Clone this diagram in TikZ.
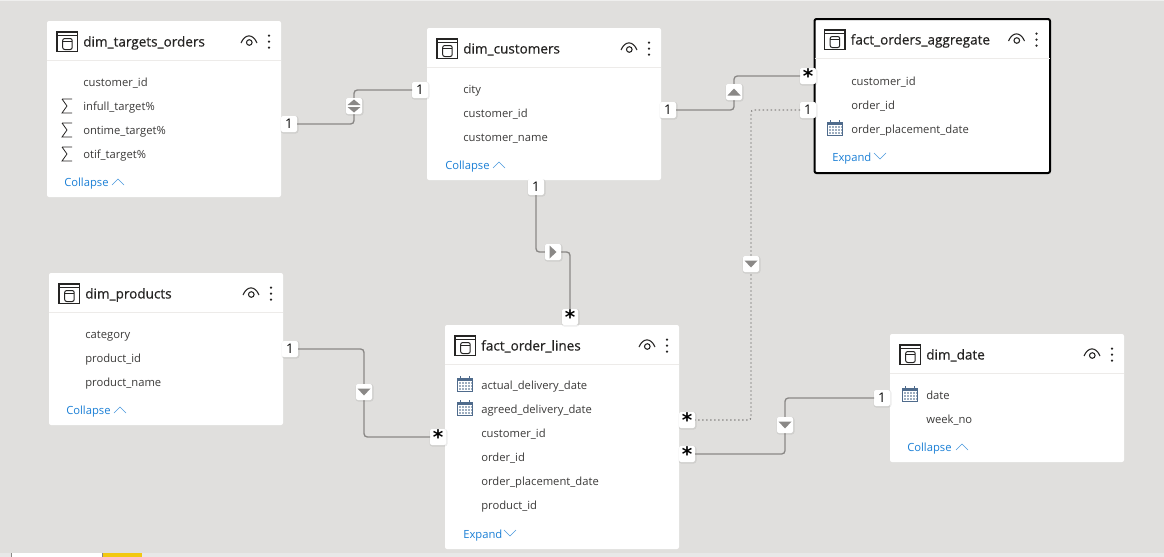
\documentclass[tikz,border=0pt]{standalone}
\usepackage{fontspec}
\setmainfont{Open Sans}
\newfontfamily\astfont{DejaVu Sans}
\newfontfamily\ttlfont[FakeBold=0.5]{Open Sans}
\usetikzlibrary{calc}
\definecolor{bgc}{HTML}{E0DFDD}
\definecolor{txtc}{HTML}{3B3A39}
\definecolor{ttlc}{HTML}{252423}
\definecolor{linkc}{HTML}{1A7FD6}
\definecolor{linec}{HTML}{8A8886}
\definecolor{rulec}{HTML}{EDEBE9}
\definecolor{calc1}{HTML}{4F6B8C}
\definecolor{tabyellow}{HTML}{F2C811}
\definecolor{stripc}{HTML}{E8E8E8}
\tikzset{
  x=0.75pt,y=-0.75pt,
  card/.style={fill=white,draw=none,rounded corners=1.5pt,anchor=north west,inner sep=0pt,outer sep=0pt},
  selcard/.style={card,draw=black,line width=1.5pt},
  fieldtxt/.style={anchor=base west,inner sep=0pt,font=\fontsize{8.42pt}{10pt}\selectfont,text=txtc},
  titletxt/.style={anchor=base west,inner sep=0pt,font=\ttlfont\fontsize{10.15pt}{11pt}\selectfont,text=ttlc},
  linktxt/.style={anchor=base west,inner sep=0pt,font=\fontsize{8.42pt}{10pt}\selectfont,text=linkc},
  badge/.style={fill=white,rounded corners=1.5pt,minimum size=12pt,inner sep=0pt,outer sep=0pt,font=\fontsize{10pt}{10pt}\selectfont,text=black},
  astbadge/.style={badge,font=\astfont\bfseries\fontsize{15pt}{15pt}\selectfont},
  filterbadge/.style={badge},
  rel/.style={draw=linec,line width=1pt,rounded corners=2.5pt},
  reldot/.style={draw=linec,line width=1pt,dotted,rounded corners=2pt},
  tri/.style={fill=linec,draw=none},
  ic/.style={draw=ttlc,line width=.9pt},
}
% card: name, x, y, w, h, title, selected style
\newcommand{\cardbox}[7]{%
  \node[#7,minimum width=#4*0.75pt,minimum height=#5*0.75pt] (#1) at (#2,#3) {};
  \draw[rulec,line width=.75pt] ($(#2,#3)+(0,39.5)$) -- ++(#4,0);
  \draw[ic] ($(#2,#3)+(10,11)$) rectangle ++(20.5,19.5);
  \draw[ic] ($(#2,#3)+(10,14.5)$) -- ++(20.5,0);
  \draw[ic,line width=.75pt,rounded corners=1.5pt] ($(#2,#3)+(15.7,17.5)$) rectangle ++(9.5,11);
  \draw[ic,line width=.65pt] ($(#2,#3)+(15.7,20)$) -- ++(9.5,0);
  \node[titletxt] (#1-title) at ($(#2,#3)+(36,25.5)$) {#6};
  \draw[ic,line width=.8pt] ($(#2,#3)+(194,22)$) .. controls ($(#2,#3)+(198,12.5)$) and ($(#2,#3)+(206,12.5)$) .. ($(#2,#3)+(210,22)$);
  \draw[ic,line width=.8pt] ($(#2,#3)+(202.3,21.5)$) circle[radius=2.8];
  \foreach \dy in {14.7,20.7,26.7}
    \fill[ttlc] ($(#2,#3)+(222,\dy)$) circle[radius=1.25];
}
% field: name, x of text, base y, text
\newcommand{\fieldrow}[4]{\node[fieldtxt] (#1) at (#2,#3+4) {#4};}
\newcommand{\sigmaicon}[2]{%
  \draw[ttlc,line width=.6pt,line join=miter] (#1-5,#2-7) -- (#1+5,#2-7) (#1-5,#2-7) -- (#1,#2) -- (#1-5,#2+7) -- (#1+5,#2+7);}
\newcommand{\calicon}[2]{%
  \draw[calc1,line width=.7pt] (#1-7.5,#2-7) rectangle (#1+7.5,#2+6);
  \draw[calc1,line width=1.1pt] (#1-7.5,#2-5) -- (#1+7.5,#2-5);
  \draw[calc1,line width=.7pt] (#1-4.5,#2-9) -- (#1-4.5,#2-6) (#1+4.5,#2-9) -- (#1+4.5,#2-6);
  \foreach \gy in {-2,1,4}
    \draw[calc1!55,line width=.9pt,dash pattern=on 1.4pt off .9pt] (#1-6,#2+\gy) -- (#1+6.5,#2+\gy);}
\newcommand{\linkup}[2]{\draw[linkc!80,line width=.5pt] (#1-6,#2+4) -- (#1,#2-2) -- (#1+6,#2+4);}
\newcommand{\linkdown}[2]{\draw[linkc!80,line width=.5pt] (#1-6,#2-2) -- (#1,#2+4) -- (#1+6,#2-2);}
% badges with faint shadow
\newcommand{\bdg}[5]{%
  \fill[black,opacity=.07,rounded corners=2pt] (#3-8.5,#4-8) rectangle (#3+9.5,#4+9.5);
  \node[#1] (#2) at (#3,#4) {#5};}
\newcommand{\upTri}[2]{\fill[tri] (#1-6.5,#2+3.5) -- (#1,#2-3.5) -- (#1+6.5,#2+3.5) -- cycle;}
\newcommand{\downTri}[2]{\fill[tri] (#1-6.5,#2-3.5) -- (#1,#2+3.5) -- (#1+6.5,#2-3.5) -- cycle;}
\newcommand{\rightTri}[2]{\fill[tri] (#1-3.5,#2-6.5) -- (#1+3.5,#2) -- (#1-3.5,#2+6.5) -- cycle;}
\newcommand{\astmark}{\raisebox{-.5em}{*}}
\begin{document}
\begin{tikzpicture}
\useasboundingbox (0,0) rectangle (1164,557);
\fill[bgc] (0,0) rectangle (1164,557);
\fill[white!50!bgc] (0,0) rectangle (1164,1);
\fill[stripc] (0,553) rectangle (1164,557);
\fill[white] (12,553) rectangle (102,557);
\fill[linec] (11,553) rectangle (12,557);
\fill[linec] (102,553) rectangle (103,557);
\fill[tabyellow] (103,553) rectangle (142,557);

% cards
\cardbox{targets}{47}{21}{234}{176}{dim\_targets\_orders}{card}
\fieldrow{t1}{83}{82}{customer\_id}
\fieldrow{t2}{83}{106}{infull\_target\%}
\fieldrow{t3}{83}{130}{ontime\_target\%}
\fieldrow{t4}{83}{154}{otif\_target\%}
\sigmaicon{67}{106}\sigmaicon{67}{130}\sigmaicon{67}{154}
\node[linktxt] (t5) at (64,186) {Collapse};\linkup{118}{181}

\cardbox{customers}{427}{28}{234}{152}{dim\_customers}{card}
\fieldrow{c1}{463}{89}{city}
\fieldrow{c2}{463}{113}{customer\_id}
\fieldrow{c3}{463}{137}{customer\_name}
\node[linktxt] (c4) at (445,169) {Collapse};\linkup{499}{164}

\cardbox{aggregate}{814.5}{19}{235.5}{154}{fact\_orders\_aggregate}{selcard}
\fieldrow{a1}{851}{81}{customer\_id}
\fieldrow{a2}{851}{105}{order\_id}
\fieldrow{a3}{851}{129}{order\_placement\_date}
\calicon{835}{129}
\node[linktxt] (a4) at (832,161) {Expand};\linkdown{880}{155}

\cardbox{products}{49}{273}{234}{152}{dim\_products}{card}
\fieldrow{p1}{85}{334}{category}
\fieldrow{p2}{85}{358}{product\_id}
\fieldrow{p3}{85}{382}{product\_name}
\node[linktxt] (p4) at (66,414) {Collapse};\linkup{120}{409}

\cardbox{lines}{445}{325}{234}{224}{fact\_order\_lines}{card}
\fieldrow{l1}{481}{385.5}{actual\_delivery\_date}
\fieldrow{l2}{481}{409.5}{agreed\_delivery\_date}
\fieldrow{l3}{481}{433.5}{customer\_id}
\fieldrow{l4}{481}{457.5}{order\_id}
\fieldrow{l5}{481}{481.5}{order\_placement\_date}
\fieldrow{l6}{481}{505.5}{product\_id}
\calicon{465}{385}\calicon{465}{409}
\node[linktxt] (l7) at (463,538) {Expand};\linkdown{510}{532}

\cardbox{datecard}{890}{334}{234}{128}{dim\_date}{card}
\fieldrow{d1}{926}{395}{date}
\fieldrow{d2}{926}{419}{week\_no}
\calicon{910}{395}
\node[linktxt] (d3) at (907,451) {Collapse};\linkup{962}{446}

% badges
\bdg{badge}{b1}{289}{124}{1}
\bdg{badge}{b2}{420}{90}{1}
\bdg{badge}{b3}{668}{110}{1}
\bdg{astbadge}{b4}{808}{76}{\astmark}
\bdg{badge}{b5}{808}{110}{1}
\bdg{badge}{b6}{536}{187}{1}
\bdg{astbadge}{b7}{570}{317}{\astmark}
\bdg{badge}{b8}{290}{349}{1}
\bdg{astbadge}{b9}{438}{437}{\astmark}
\bdg{astbadge}{b10}{687}{420}{\astmark}
\bdg{astbadge}{b11}{687}{454}{\astmark}
\bdg{badge}{b12}{882}{398}{1}

% connectors
\coordinate (k1) at (354,124);\coordinate (k2) at (354,90);
\draw[rel] (b1) -- (k1) -- (k2) -- (b2);
\coordinate (k3) at (734,110);\coordinate (k4) at (734,76);
\draw[rel] (b3) -- (k3) -- (k4) -- (b4);
\coordinate (k5) at (751,110);\coordinate (k6) at (751,420);
\draw[reldot] (b5) -- (k5) -- (k6) -- (b10);
\coordinate (k7) at (536,252);\coordinate (k8) at (570,252);
\draw[rel] (b6) -- (k7) -- (k8) -- (b7);
\coordinate (k9) at (364,349);\coordinate (k10) at (364,437);
\draw[rel] (b8) -- (k9) -- (k10) -- (b9);
\coordinate (k11) at (785,454);\coordinate (k12) at (785,398);
\draw[rel] (b11) -- (k11) -- (k12) -- (b12);

% filter badges
\bdg{filterbadge}{f1}{354}{106}{}
\fill[tri] (347.5,105) -- (354,99.5) -- (360.5,105) -- cycle;
\fill[tri] (347.5,107) -- (354,112.5) -- (360.5,107) -- cycle;
\bdg{filterbadge}{f2}{734}{92}{}\upTri{734}{92}
\bdg{filterbadge}{f3}{751}{264}{}\downTri{751}{264}
\bdg{filterbadge}{f4}{553}{252}{}\rightTri{553}{252}
\bdg{filterbadge}{f5}{364}{392}{}\downTri{364}{392}
\bdg{filterbadge}{f6}{785}{425}{}\downTri{785}{425}
\end{tikzpicture}
\end{document}
